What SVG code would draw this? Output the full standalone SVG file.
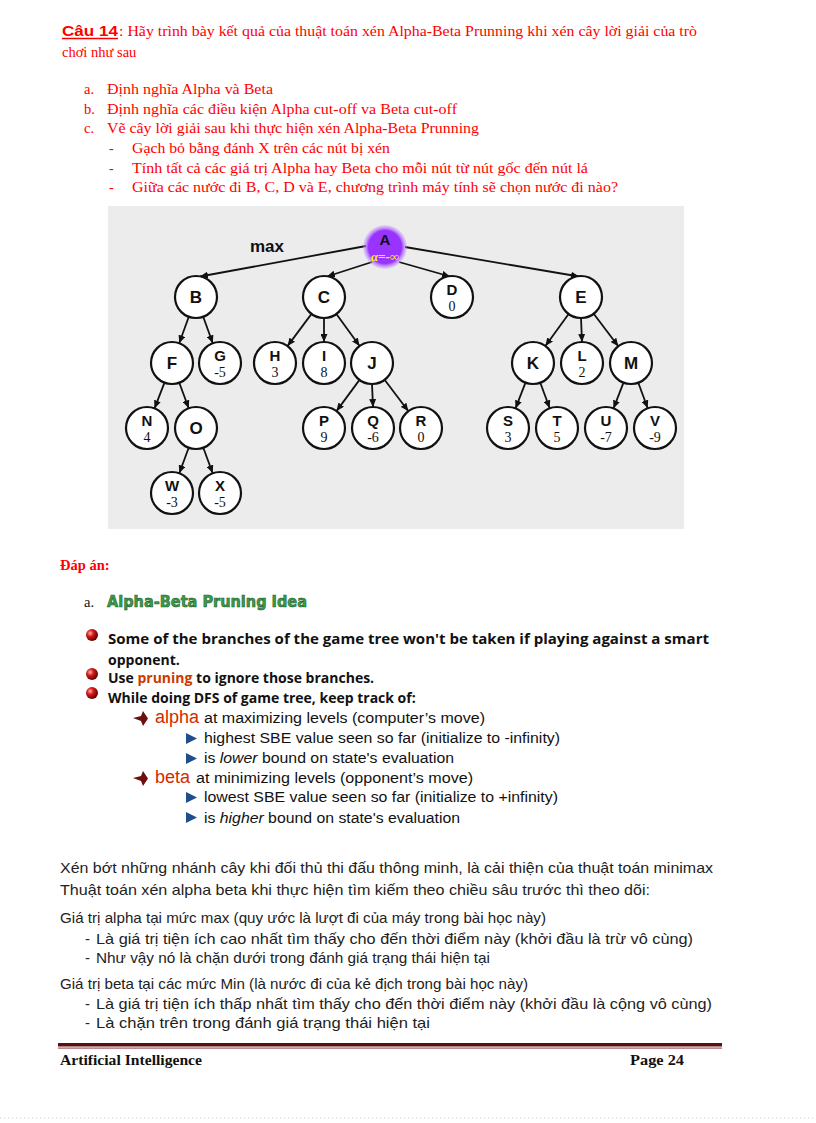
<svg xmlns="http://www.w3.org/2000/svg" width="816" height="1123" viewBox="0 0 816 1123">
<style>
.q{font-family:"Liberation Serif","Times New Roman",serif;font-size:14.5px;fill:#ff0000}
.qh{font-family:"Liberation Sans",Arial,sans-serif;font-size:14.5px;font-weight:bold;fill:#ff0000}
.b{font-family:"Open Sans","Liberation Sans",sans-serif;font-weight:bold;font-size:14px;fill:#111}
.s{font-family:"Liberation Sans",Arial,sans-serif;font-size:15.5px;fill:#111}
.kw{font-family:"Liberation Sans",Arial,sans-serif;font-size:18px;fill:#d42a00}
.vn{font-family:"Liberation Sans",Arial,sans-serif;font-size:15px;fill:#222}
.ft{font-family:"Liberation Serif","Times New Roman",serif;font-size:14.5px;font-weight:bold;fill:#111}
.nl{font-family:"Liberation Sans",Arial,sans-serif;font-weight:bold;font-size:17px;text-anchor:middle;fill:#111}
.nl2{font-family:"Liberation Sans",Arial,sans-serif;font-weight:bold;font-size:15px;text-anchor:middle;fill:#111}
.nv{font-family:"Liberation Serif","Times New Roman",serif;font-size:14px;text-anchor:middle;fill:#111}
.node circle{fill:#fff;stroke:#111;stroke-width:2.2}
.edge line{stroke:#111;stroke-width:1.8;marker-end:url(#ah)}
.tri{fill:#1f4e8c}
.arr{fill:#6b0f0f}
</style>
<defs>
<marker id="ah" markerUnits="userSpaceOnUse" markerWidth="8" markerHeight="7" refX="8" refY="3.5" orient="auto">
<path d="M0,0 L8,3.5 L0,7 z" fill="#111"/>
</marker>
<radialGradient id="ball" cx="0.35" cy="0.35" r="0.7">
<stop offset="0" stop-color="#ffb0b0"/>
<stop offset="0.4" stop-color="#d41a1a"/>
<stop offset="1" stop-color="#5a0000"/>
</radialGradient>
<radialGradient id="glow" cx="0.5" cy="0.5" r="0.5">
<stop offset="0.75" stop-color="#9933ff"/>
<stop offset="1" stop-color="#c9a0ff" stop-opacity="0.3"/>
</radialGradient>
</defs>
<rect width="816" height="1123" fill="#fff"/>

<!-- Question -->
<text class="qh" x="62" y="36" textLength="56" lengthAdjust="spacingAndGlyphs">Câu 14</text>
<line x1="62" y1="38.5" x2="118" y2="38.5" stroke="#ff0000" stroke-width="1.3"/>
<text class="q" x="119" y="36" textLength="578" lengthAdjust="spacingAndGlyphs">: Hãy trình  bày kết quả của thuật toán xén Alpha-Beta Prunning  khi xén cây lời giải  của trò</text>
<text class="q" x="62" y="57">chơi như sau</text>
<text class="q" x="84" y="94">a.</text>
<text class="q" x="107" y="94" textLength="166" lengthAdjust="spacingAndGlyphs">Định nghĩa  Alpha và Beta</text>
<text class="q" x="84" y="114">b.</text>
<text class="q" x="107" y="114" textLength="350" lengthAdjust="spacingAndGlyphs">Định nghĩa  các điều kiện Alpha cut-off va Beta cut-off</text>
<text class="q" x="84" y="133">c.</text>
<text class="q" x="107" y="133" textLength="372" lengthAdjust="spacingAndGlyphs">Vẽ cây lời giải sau khi thực hiện xén Alpha-Beta Prunning</text>
<text class="q" x="109" y="153">-</text>
<text class="q" x="132" y="153" textLength="258" lengthAdjust="spacingAndGlyphs">Gạch bỏ bằng đánh X trên các nút bị xén</text>
<text class="q" x="109" y="173">-</text>
<text class="q" x="132" y="173" textLength="456" lengthAdjust="spacingAndGlyphs">Tính tất cả các giá trị Alpha hay Beta cho mỗi nút từ nút gốc đến nút lá</text>
<text class="q" x="109" y="192">-</text>
<text class="q" x="132" y="192" textLength="486" lengthAdjust="spacingAndGlyphs">Giữa các nước đi B, C, D và E, chương trình máy tính sẽ chọn nước đi nào?</text>

<!-- Tree -->
<rect x="108" y="206" width="576" height="323" fill="#ececec"/>
<text x="250" y="252" font-family="Liberation Sans,Arial,sans-serif" font-weight="bold" font-size="17" fill="#111">max</text>

<g id="connectors" class="edge">
<line x1="366" y1="246" x2="200" y2="276.5"/>
<line x1="372" y1="262" x2="327" y2="276.5"/>
<line x1="399" y1="262" x2="450" y2="276.5"/>
<line x1="405" y1="247" x2="579" y2="276.5"/>
<line x1="188.8" y1="316.7" x2="179.2" y2="343.3"/>
<line x1="203.2" y1="316.7" x2="212.8" y2="343.3"/>
<line x1="311.5" y1="313.9" x2="287.5" y2="346.1"/>
<line x1="324" y1="318" x2="324" y2="342"/>
<line x1="336.4" y1="314" x2="359.6" y2="346"/>
<line x1="568.6" y1="314" x2="545.4" y2="346"/>
<line x1="581" y1="318" x2="582" y2="342"/>
<line x1="593.7" y1="313.7" x2="618.3" y2="346.3"/>
<line x1="164.5" y1="382.6" x2="154.5" y2="408.4"/>
<line x1="179.3" y1="382.7" x2="188.7" y2="408.3"/>
<line x1="359.5" y1="379.9" x2="336.5" y2="411.1"/>
<line x1="372" y1="384" x2="373" y2="407"/>
<line x1="384.6" y1="379.8" x2="408.4" y2="411.2"/>
<line x1="525.5" y1="382.6" x2="515.5" y2="408.4"/>
<line x1="540.3" y1="382.7" x2="549.7" y2="408.3"/>
<line x1="623.5" y1="382.6" x2="613.5" y2="408.4"/>
<line x1="638.3" y1="382.7" x2="647.7" y2="408.3"/>
<line x1="188.7" y1="447.7" x2="179.3" y2="473.3"/>
<line x1="203.3" y1="447.7" x2="212.7" y2="473.3"/>
</g>

<g id="node-A">
<circle cx="385" cy="247" r="22" fill="url(#glow)"/>
<text class="nl2" x="385" y="245" font-size="16">A</text>
<text x="385" y="261" text-anchor="middle" font-family="Liberation Serif,serif" font-style="italic" font-weight="bold" font-size="13" fill="#ffee00">α=-∞</text>
</g>
<g id="node-B" class="node"><circle cx="196" cy="297" r="21"/><text class="nl" x="196" y="303">B</text></g>
<g id="node-C" class="node"><circle cx="324" cy="297" r="21"/><text class="nl" x="324" y="303">C</text></g>
<g id="node-D" class="node"><circle cx="452" cy="297" r="21"/><text class="nl2" x="452" y="295">D</text><text class="nv" x="452" y="311">0</text></g>
<g id="node-E" class="node"><circle cx="581" cy="297" r="21"/><text class="nl" x="581" y="303">E</text></g>
<g id="node-F" class="node"><circle cx="172" cy="363" r="21"/><text class="nl" x="172" y="369">F</text></g>
<g id="node-G" class="node"><circle cx="220" cy="363" r="21"/><text class="nl2" x="220" y="361">G</text><text class="nv" x="220" y="377">-5</text></g>
<g id="node-H" class="node"><circle cx="275" cy="363" r="21"/><text class="nl2" x="275" y="361">H</text><text class="nv" x="275" y="377">3</text></g>
<g id="node-I" class="node"><circle cx="324" cy="363" r="21"/><text class="nl2" x="324" y="361">I</text><text class="nv" x="324" y="377">8</text></g>
<g id="node-J" class="node"><circle cx="372" cy="363" r="21"/><text class="nl" x="372" y="369">J</text></g>
<g id="node-K" class="node"><circle cx="533" cy="363" r="21"/><text class="nl" x="533" y="369">K</text></g>
<g id="node-L" class="node"><circle cx="582" cy="363" r="21"/><text class="nl2" x="582" y="361">L</text><text class="nv" x="582" y="377">2</text></g>
<g id="node-M" class="node"><circle cx="631" cy="363" r="21"/><text class="nl" x="631" y="369">M</text></g>
<g id="node-N" class="node"><circle cx="147" cy="428" r="21"/><text class="nl2" x="147" y="426">N</text><text class="nv" x="147" y="442">4</text></g>
<g id="node-O" class="node"><circle cx="196" cy="428" r="21"/><text class="nl" x="196" y="434">O</text></g>
<g id="node-P" class="node"><circle cx="324" cy="428" r="21"/><text class="nl2" x="324" y="426">P</text><text class="nv" x="324" y="442">9</text></g>
<g id="node-Q" class="node"><circle cx="373" cy="428" r="21"/><text class="nl2" x="373" y="426">Q</text><text class="nv" x="373" y="442">-6</text></g>
<g id="node-R" class="node"><circle cx="421" cy="428" r="21"/><text class="nl2" x="421" y="426">R</text><text class="nv" x="421" y="442">0</text></g>
<g id="node-S" class="node"><circle cx="508" cy="428" r="21"/><text class="nl2" x="508" y="426">S</text><text class="nv" x="508" y="442">3</text></g>
<g id="node-T" class="node"><circle cx="557" cy="428" r="21"/><text class="nl2" x="557" y="426">T</text><text class="nv" x="557" y="442">5</text></g>
<g id="node-U" class="node"><circle cx="606" cy="428" r="21"/><text class="nl2" x="606" y="426">U</text><text class="nv" x="606" y="442">-7</text></g>
<g id="node-V" class="node"><circle cx="655" cy="428" r="21"/><text class="nl2" x="655" y="426">V</text><text class="nv" x="655" y="442">-9</text></g>
<g id="node-W" class="node"><circle cx="172" cy="493" r="21"/><text class="nl2" x="172" y="491">W</text><text class="nv" x="172" y="507">-3</text></g>
<g id="node-X" class="node"><circle cx="220" cy="493" r="21"/><text class="nl2" x="220" y="491">X</text><text class="nv" x="220" y="507">-5</text></g>

<!-- Answer -->
<text x="60" y="570" font-family="Liberation Serif,serif" font-weight="bold" font-size="14.5" fill="#ff0000">Đáp án:</text>
<text x="84" y="607" font-family="Liberation Serif,serif" font-size="14.5" fill="#111">a.</text>
<text x="107" y="607" font-family="DejaVu Sans,sans-serif" font-weight="bold" font-size="16" fill="#3c9a4a" stroke="#1d5e2a" stroke-width="0.6" textLength="200" lengthAdjust="spacingAndGlyphs">Alpha-Beta Pruning Idea</text>

<circle cx="92" cy="635" r="6" fill="url(#ball)"/>
<circle cx="92" cy="674" r="6" fill="url(#ball)"/>
<circle cx="92" cy="693" r="6" fill="url(#ball)"/>
<text class="b" x="108" y="644" textLength="601" lengthAdjust="spacingAndGlyphs">Some of the branches of the game tree won't be taken if playing against a smart</text>
<text class="b" x="108" y="665">opponent.</text>
<text class="b" x="108" y="683">Use <tspan fill="#cc3a00">pruning</tspan> to ignore those branches.</text>
<text class="b" x="108" y="703">While doing DFS of game tree, keep track of:</text>

<polygon class="arr" points="133,718 141,716 143,711 148,718.5 143,726 141,721"/>
<text class="kw" x="155" y="723">alpha</text>
<text class="s" x="204" y="723" textLength="281" lengthAdjust="spacingAndGlyphs">at maximizing levels (computer’s move)</text>
<polygon class="tri" points="186,733 197,738.5 186,744"/>
<text class="s" x="204" y="743" textLength="356" lengthAdjust="spacingAndGlyphs">highest SBE value  seen so far (initialize to -infinity)</text>
<polygon class="tri" points="186,753 197,758.5 186,764"/>
<text class="s" x="204" y="763" textLength="250" lengthAdjust="spacingAndGlyphs">is <tspan font-style="italic">lower</tspan> bound on state's evaluation</text>
<polygon class="arr" points="133,778 141,776 143,771 148,778.5 143,786 141,781"/>
<text class="kw" x="155" y="783">beta</text>
<text class="s" x="196" y="783" textLength="277" lengthAdjust="spacingAndGlyphs">at minimizing levels (opponent’s move)</text>
<polygon class="tri" points="186,792 197,797.5 186,803"/>
<text class="s" x="204" y="802" textLength="354" lengthAdjust="spacingAndGlyphs">lowest SBE value  seen so far (initialize to +infinity)</text>
<polygon class="tri" points="186,812 197,817.5 186,823"/>
<text class="s" x="204" y="823" textLength="256" lengthAdjust="spacingAndGlyphs">is <tspan font-style="italic">higher</tspan> bound on state's evaluation</text>

<text class="vn" x="60" y="873" textLength="653" lengthAdjust="spacingAndGlyphs">Xén bớt những nhánh  cây khi đối thủ thi đấu thông minh, là cải thiện của thuật toán minimax</text>
<text class="vn" x="60" y="895" textLength="590" lengthAdjust="spacingAndGlyphs">Thuật toán xén alpha beta khi thực hiện tìm  kiếm theo chiều sâu trước thì  theo dõi:</text>
<text class="vn" x="60" y="923" textLength="486" lengthAdjust="spacingAndGlyphs">Giá trị alpha tại mức max (quy ước là lượt đi của máy trong bài học này)</text>
<text class="vn" x="85" y="944">-</text>
<text class="vn" x="96" y="944" textLength="597" lengthAdjust="spacingAndGlyphs">Là giá trị tiện ích  cao nhất  tìm thấy  cho đến thời điểm này (khởi đầu là trừ vô cùng)</text>
<text class="vn" x="85" y="963">-</text>
<text class="vn" x="96" y="963" textLength="394" lengthAdjust="spacingAndGlyphs">Như vậy nó là chặn dưới trong đánh giá trạng thái hiện tại</text>
<text class="vn" x="60" y="989" textLength="468" lengthAdjust="spacingAndGlyphs">Giá trị beta tại các mức Min (là nước đi của kẻ địch trong bài học này)</text>
<text class="vn" x="85" y="1009">-</text>
<text class="vn" x="96" y="1009" textLength="616" lengthAdjust="spacingAndGlyphs">Là giá trị tiện ích  thấp nhất  tìm thấy cho đến thời điểm này (khởi đầu là cộng vô cùng)</text>
<text class="vn" x="85" y="1028">-</text>
<text class="vn" x="96" y="1028" textLength="334" lengthAdjust="spacingAndGlyphs">Là chặn trên trong đánh giá trạng thái hiện tại</text>

<!-- Footer -->
<rect x="58" y="1043" width="664" height="3.5" fill="#5a1010"/>
<rect x="58" y="1047.5" width="664" height="1.2" fill="#a05a5a"/>
<text class="ft" x="60" y="1065" textLength="142" lengthAdjust="spacingAndGlyphs">Artificial Intelligence</text>
<text class="ft" x="630" y="1065" textLength="54" lengthAdjust="spacingAndGlyphs">Page 24</text>
<line x1="0" y1="1118" x2="816" y2="1118" stroke="#c8c8c8" stroke-width="1" stroke-dasharray="1,3"/>
</svg>
